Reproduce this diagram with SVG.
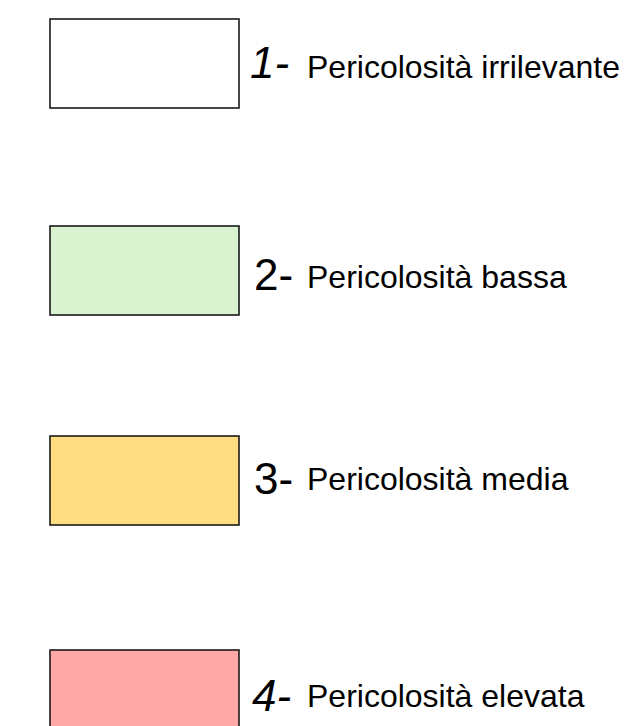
<svg xmlns="http://www.w3.org/2000/svg" width="626" height="726" viewBox="0 0 626 726">
<style>
.box{stroke:#1a1a1a;stroke-width:1.6}
.num{font-family:"Liberation Sans",Arial,sans-serif;font-size:44px;fill:#000}
.lbl{font-family:"Liberation Sans",Arial,sans-serif;font-size:32px;fill:#000}
</style>
<rect width="626" height="726" fill="#fff"/>
<g id="item1">
<rect class="box" x="50" y="19" width="189" height="89" fill="#ffffff"/>
<text class="num" x="250" y="78" font-style="italic">1-</text>
<text class="lbl" x="307" y="78">Pericolosità irrilevante</text>
</g>
<g id="item2">
<rect class="box" x="50" y="226" width="189" height="89" fill="#d9f2d0"/>
<text class="num" x="254" y="290">2-</text>
<text class="lbl" x="307" y="288">Pericolosità bassa</text>
</g>
<g id="item3">
<rect class="box" x="50" y="436" width="189" height="89" fill="#ffdd80"/>
<text class="num" x="254" y="494">3-</text>
<text class="lbl" x="307" y="490">Pericolosità media</text>
</g>
<g id="item4">
<rect class="box" x="50" y="650" width="189" height="89" fill="#ffa6a6"/>
<text class="num" x="252" y="711" font-style="italic">4-</text>
<text class="lbl" x="307" y="707">Pericolosità elevata</text>
</g>
</svg>
